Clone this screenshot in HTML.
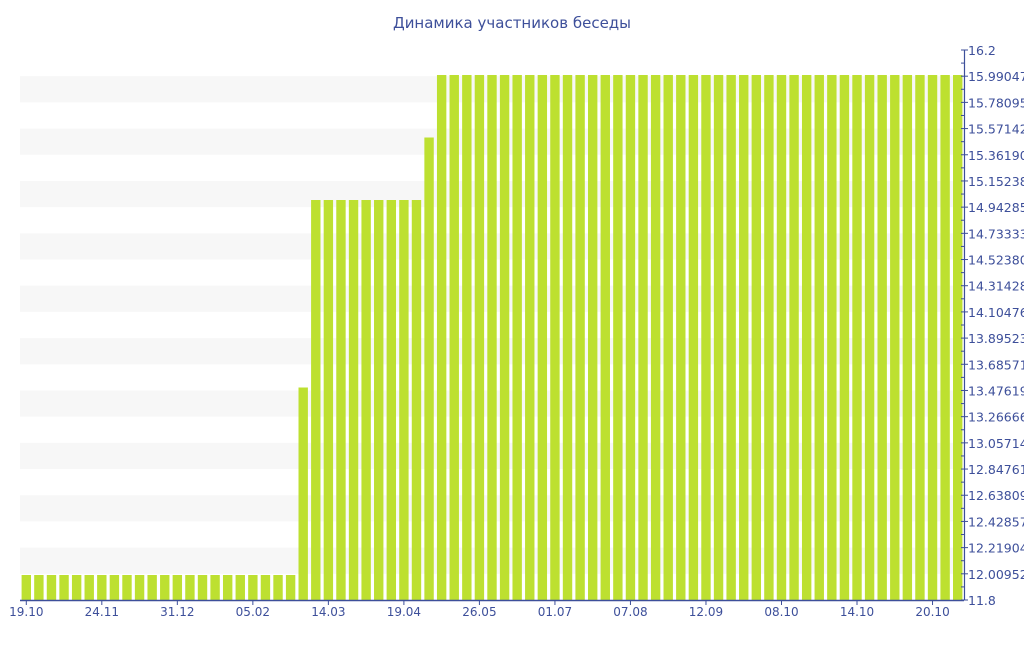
<!DOCTYPE html>
<html><head><meta charset="utf-8"><style>
body{margin:0;background:#fff;font-family:"Liberation Sans","DejaVu Sans",sans-serif;}
svg text{font-family:"DejaVu Sans","Liberation Sans",sans-serif;fill:#3d4f9a;}
</style></head><body>
<svg id="chart" width="1024" height="640" viewBox="0 0 1024 640" xmlns="http://www.w3.org/2000/svg">
<text x="512" y="28" text-anchor="middle" font-size="15">Динамика участников беседы</text>
<g id="bands"></g><g id="bars"></g><g id="axes"></g>
</svg>
<script>
const counts = [12,12,12,12,12,12,12,12,12,12,12,12,12,12,12,12,12,12,12,12,12,12,13.5,15,15,15,15,15,15,15,15,15,15.5,16,16,16,16,16,16,16,16,16,16,16,16,16,16,16,16,16,16,16,16,16,16,16,16,16,16,16,16,16,16,16,16,16,16,16,16,16,16,16,16,16,16];
const xLabels = ["19.10","24.11","31.12","05.02","14.03","19.04","26.05","01.07","07.08","12.09","08.10","14.10","20.10"];
const xLabelIdx = [0,6,12,18,24,30,36,42,48,54,60,66,72];
const yMin = 11.8, yMax = 16.2, yStep = 4.4/21;

const NS="http://www.w3.org/2000/svg";
const L=20,R=964,T=50,B=600;
const pitch=(R-L)/counts.length;
const xc=i=>L+(i+0.5)*pitch;
const y=v=>B-(v-yMin)/(yMax-yMin)*(B-T);
function mk(tag,attrs,parent){const e=document.createElementNS(NS,tag);for(const k in attrs)e.setAttribute(k,attrs[k]);parent.appendChild(e);return e;}
const bands=document.getElementById('bands'),bars=document.getElementById('bars'),axes=document.getElementById('axes');
for(let k=1;k<21;k+=2){
  const r=mk('rect',{x:L,y:y(yMin+(k+1)*yStep),width:R-L,height:y(yMin+k*yStep)-y(yMin+(k+1)*yStep),fill:'#f7f7f7'},bands);
  
  
}
counts.forEach((v,i)=>{
  const r=mk('rect',{x:xc(i)-4.7,y:y(v),width:9.4,height:B-y(v),fill:'#bde030'},bars);
  
  
});
const xa=mk('line',{x1:L,y1:B+0.5,x2:R,y2:B+0.5,stroke:'#3d4f9a','stroke-width':1.5},axes);


xLabels.forEach((s,j)=>{
  const x=xc(xLabelIdx[j]);
  mk('line',{x1:x,y1:B,x2:x,y2:B+5,stroke:'#3d4f9a'},axes);
  const t=mk('text',{x:x,y:B+16,'text-anchor':'middle','font-size':12},axes);
  t.textContent=s;
  
  
});
const ya=mk('line',{x1:R+0.5,y1:T,x2:R+0.5,y2:B,stroke:'#3d4f9a','stroke-width':1.2},axes);


for(let k=0;k<=21;k++){
  const v=yMin+k*yStep, yy=y(v);
  mk('line',{x1:R-3,y1:yy,x2:R+4,y2:yy,stroke:'#3d4f9a'},axes);
  if(k<21) mk('line',{x1:R-3,y1:yy-(B-T)/42,x2:R,y2:yy-(B-T)/42,stroke:'#3d4f9a'},axes);
  let s=(k===0)?'11.8':(k===21)?'16.2':v.toFixed(7);
  const t=mk('text',{x:R+4,y:yy+5,'font-size':12.5},axes);
  t.textContent=s;
  
  
}
</script>
</body></html>
